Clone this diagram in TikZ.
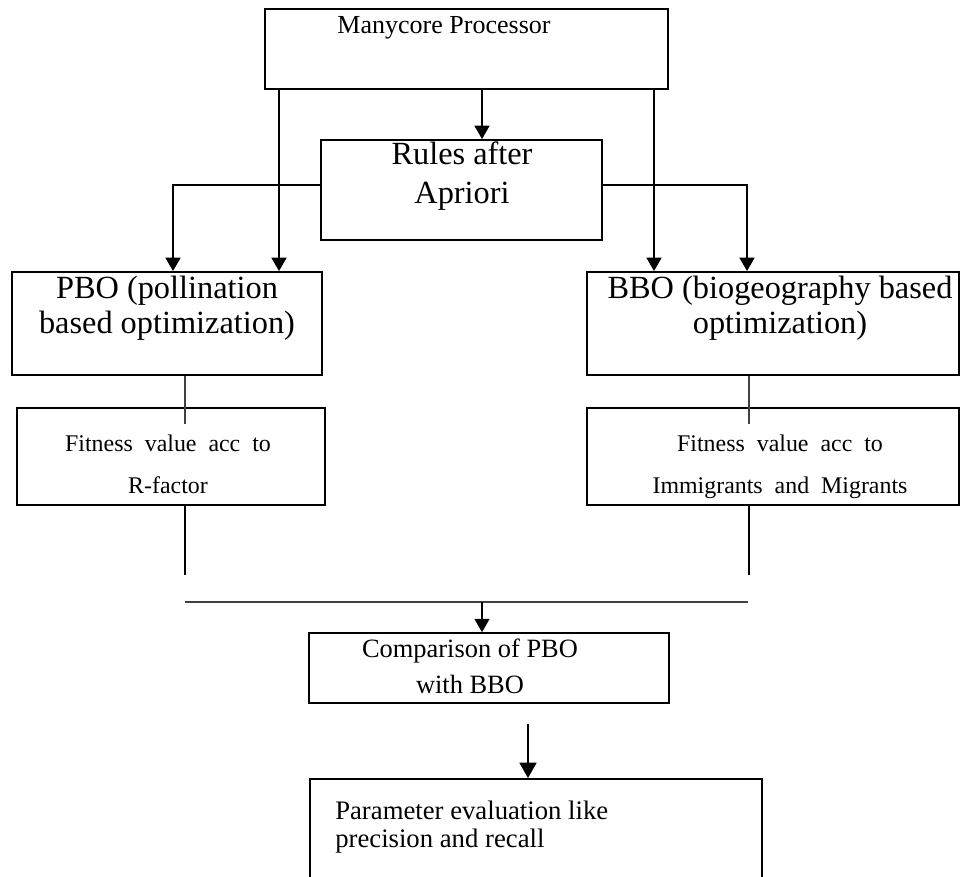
\documentclass[tikz,border=0pt]{standalone}
\usepackage{fontspec}
\setmainfont{Liberation Serif}
\usepackage{tikz}
\usetikzlibrary{positioning,arrows.meta}
\newcommand{\gap}{\hspace{8.5pt}}
\tikzstyle{boxNode} = [rectangle, draw, line width=1.3pt]
\tikzstyle{fitNode} = [rectangle, draw, line width=2pt]
\tikzstyle{txtNode} = [rectangle, align=center, inner sep=0pt]
\tikzstyle{arr} = [line width=1.5pt, -{Triangle[length=9.5pt,width=10.5pt]}]
\tikzstyle{link} = [line width=1.5pt]
\tikzstyle{thinLink} = [line width=0.9pt, black!75]

\begin{document}
\begin{tikzpicture}
            \useasboundingbox (0,0) rectangle (24,-21.9);
            % boxes
            \node (mcp) at (11.6625,-1.225) [boxNode, minimum width=10.075cm, minimum height=2cm] {};
            \node (rules) at (11.5375,-4.75) [boxNode, minimum width=7.025cm, minimum height=2.5cm] {};
            \node (pbo) at (4.175,-8.0875) [boxNode, minimum width=7.75cm, minimum height=2.575cm] {};
            \node (bbo) at (19.325,-8.0875) [boxNode, minimum width=9.3cm, minimum height=2.575cm] {};
            \node (fitl) at (4.275,-11.4125) [fitNode, minimum width=7.7cm, minimum height=2.425cm] {};
            \node (fitr) at (19.325,-11.4125) [fitNode, minimum width=9.3cm, minimum height=2.425cm] {};
            \node (cmp) at (12.225,-16.7) [boxNode, line width=1.1pt, minimum width=9cm, minimum height=1.75cm] {};
            \node (par) at (13.4,-20.9875) [boxNode, minimum width=11.3cm, minimum height=3.025cm] {};
            % texts
            \node (mcpT) at (11.1,-0.825) [txtNode, anchor=base, font=\fontsize{18.5}{21}\selectfont] {Manycore Processor};
            \node (rulesT) at (11.55,-4.4) [txtNode, font=\fontsize{23}{28}\selectfont] {Rules after\\Apriori};
            \node (pboT) at (4.175,-7.71) [txtNode, font=\fontsize{23}{24.8}\selectfont] {PBO (pollination\\based optimization)};
            \node (bboT) at (19.5,-7.71) [txtNode, font=\fontsize{23}{24.8}\selectfont] {BBO (biogeography based\\optimization)};
            \node (fitlT) at (4.2,-11.6) [txtNode, font=\fontsize{17}{29.8}\selectfont] {Fitness\gap value\gap acc\gap to\\R-factor};
            \node (fitrT) at (19.5,-11.66) [txtNode, font=\fontsize{17}{29.8}\selectfont] {Fitness\gap value\gap acc\gap to\\Immigrants\gap and\gap Migrants};
            \node (cmpT) at (11.75,-16.66) [txtNode, font=\fontsize{18.8}{25.5}\selectfont] {Comparison of PBO\\with BBO};
            \node (parT) at (8.375,-20.02) [txtNode, anchor=north west, align=left, font=\fontsize{19}{20}\selectfont] {Parameter evaluation like\\precision and recall};
            % x positions of the vertical connectors
            \coordinate (xmid) at (12.05,0);
            \coordinate (xl1) at (4.325,0);
            \coordinate (xl2) at (6.975,0);
            \coordinate (xr1) at (16.35,0);
            \coordinate (xr2) at (18.675,0);
            \coordinate (xlf) at (4.625,0);
            \coordinate (xrf) at (18.725,0);
            \coordinate (xpar) at (13.2,0);
            \coordinate (barL) at (4.625,-15.05);
            \coordinate (barR) at (18.7,-15.05);
            \coordinate (endL) at (4.625,-14.375);
            \coordinate (endR) at (18.725,-14.375);
            % connectors
            \draw[arr](mcp.south -| xmid)--(rules.north -| xmid);
            \draw[arr]([yshift=1.25mm]rules.west)-|(pbo.north -| xl1);
            \draw[arr](mcp.south -| xl2)--(pbo.north -| xl2);
            \draw[arr](mcp.south -| xr1)--(bbo.north -| xr1);
            \draw[arr]([yshift=1.25mm]rules.east)-|(bbo.north -| xr2);
            \draw[thinLink](pbo.south -| xlf)--([yshift=-4.25mm]fitl.north -| xlf);
            \draw[thinLink](bbo.south -| xrf)--([yshift=-4.25mm]fitr.north -| xrf);
            \draw[link](fitl.south -| xlf)--(endL);
            \draw[link](fitr.south -| xrf)--(endR);
            \draw[thinLink](barL)--(barR);
            \draw[arr](barL -| xmid)--(cmp.north -| xmid);
            \draw[arr, -{Triangle[length=11pt,width=12pt]}]([yshift=-5mm]cmp.south -| xpar)--(par.north -| xpar);
        \end{tikzpicture}
\end{document}
